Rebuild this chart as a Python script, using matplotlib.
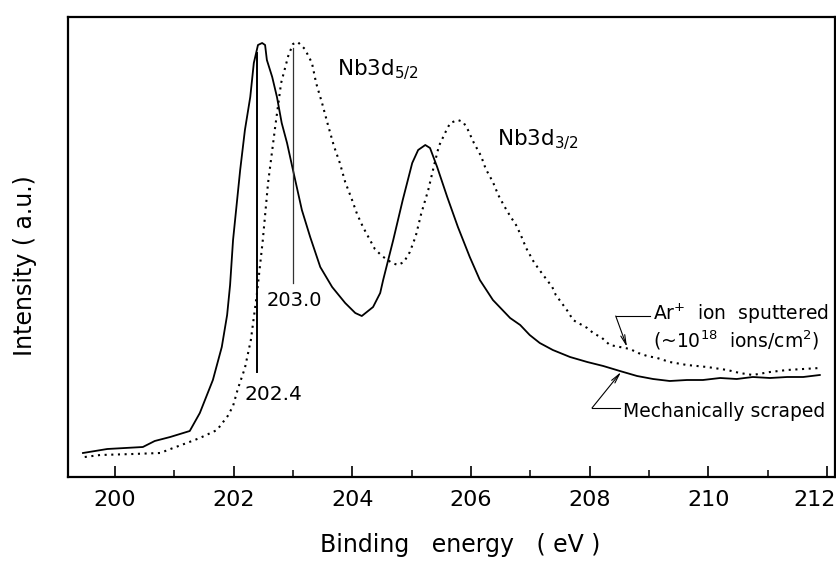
"""Nb 3d XPS spectra of a niobium surface: mechanically scraped vs. Ar+ sputtered."""

import matplotlib

matplotlib.use("Agg")
import matplotlib.pyplot as plt
import matplotlib.transforms as mtransforms
import numpy as np


# Mechanically scraped surface (solid trace), intensity in a.u.
scraped_ev = [
    199.46, 199.87, 200.47, 200.67, 200.93, 201.26, 201.43, 201.65, 201.80,
    201.89, 201.94, 201.99, 202.11, 202.19, 202.28, 202.34, 202.41, 202.48,
    202.53, 202.56, 202.65, 202.73, 202.81, 202.90, 203.00, 203.15, 203.29,
    203.46, 203.66, 203.88, 204.05, 204.16, 204.35, 204.47, 204.52, 204.69,
    204.85, 205.01, 205.11, 205.23, 205.31, 205.43, 205.60, 205.78, 205.98,
    206.15, 206.37, 206.66, 206.83, 206.99, 207.16, 207.38, 207.67, 207.96,
    208.23, 208.51, 208.80, 209.07, 209.35, 209.64, 209.91, 210.20, 210.48,
    210.75, 211.04, 211.33, 211.60, 211.88,
]
scraped_int = [
    25, 29, 31, 37, 41, 47, 65, 98, 131,
    163, 193, 238, 308, 348, 381, 415, 433, 435,
    433, 418, 401, 381, 355, 335, 308, 268, 241,
    211, 191, 175, 165, 162, 171, 185, 198, 238,
    278, 315, 328, 333, 330, 311, 281, 251, 221,
    198, 178, 160, 153, 143, 135, 128, 121, 116,
    112, 107, 102, 99, 97, 98, 98, 100, 99,
    101, 100, 101, 101, 103,
]

# Ar+ ion sputtered surface (~1e18 ions/cm^2, dotted trace)
sputtered_ev = [
    199.49, 199.75, 200.30, 200.76, 200.98, 201.21, 201.43, 201.72, 201.90,
    201.99, 202.07, 202.19, 202.29, 202.39, 202.49, 202.58, 202.70, 202.80,
    202.92, 203.00, 203.08, 203.20, 203.32, 203.39, 203.49, 203.59, 203.69,
    203.79, 203.88, 203.99, 204.08, 204.18, 204.28, 204.38, 204.50, 204.67,
    204.77, 204.87, 204.97, 205.07, 205.16, 205.28, 205.38, 205.46, 205.58,
    205.65, 205.78, 205.87, 205.95, 206.05, 206.17, 206.25, 206.37, 206.46,
    206.56, 206.66, 206.76, 206.84, 206.93, 207.05, 207.13, 207.23, 207.37,
    207.43, 207.53, 207.64, 207.72, 207.84, 207.96, 208.06, 208.21, 208.34,
    208.51, 208.68, 208.82, 208.97, 209.14, 209.35, 209.64, 209.98, 210.32,
    210.53, 210.75, 211.04, 211.33, 211.60, 211.88,
]
sputtered_int = [
    21, 23, 24, 25, 30, 35, 40, 48, 62,
    72, 89, 110, 138, 183, 237, 295, 351, 395,
    422, 434, 436, 429, 415, 395, 375, 353, 332,
    315, 296, 279, 264, 251, 240, 229, 222, 215,
    213, 216, 226, 242, 264, 288, 313, 332, 347,
    355, 358, 356, 348, 335, 322, 309, 296, 283,
    272, 262, 253, 243, 230, 217, 210, 202, 191,
    183, 175, 166, 158, 154, 150, 145, 140, 133,
    131, 129, 125, 122, 120, 116, 113, 111, 108,
    105, 103, 106, 108, 109, 110,
]

peak_scraped = 202.4
peak_sputtered = 203.0

major_ticks = [200, 202, 204, 206, 208, 210, 212]
minor_ticks = [201, 203, 205, 207, 209, 211]

W, H = 837, 562
fig = plt.figure(figsize=(W / 100, H / 100), dpi=100)
ax = fig.add_axes([68 / W, (H - 477) / H, 767 / W, 460 / H])

ax.plot(scraped_ev, scraped_int, color="black", linewidth=1.3,
        solid_joinstyle="round")
ax.plot(
    sputtered_ev,
    sputtered_int,
    color="black",
    linewidth=1.5,
    linestyle=(0, (1, 2.2)),
)

# Peak position markers
ax.plot([peak_scraped, peak_scraped], [106, 425], color="black", linewidth=1.4)
ax.plot([peak_sputtered, peak_sputtered], [195, 430], color="#333333", linewidth=0.9)
ax.text(202.19, 84, f"{peak_scraped:.1f}", fontsize=14.5, ha="left", va="center")
ax.text(203.02, 178, f"{peak_sputtered:.1f}", fontsize=14, ha="center", va="center")

ax.text(203.74, 403, r"Nb3d$_{5/2}$", fontsize=15.5, ha="left", va="baseline")
ax.text(206.44, 333, r"Nb3d$_{3/2}$", fontsize=15.5, ha="left", va="baseline")

# Curve labels with leader lines
arrow = dict(arrowstyle="->,head_length=0.7,head_width=0.15", color="black",
             linewidth=0.8, shrinkA=0, shrinkB=0)
ax.plot([208.44, 209.02], [162, 162], color="black", linewidth=0.8)
ax.annotate("", xy=(208.63, 131), xytext=(208.44, 162), arrowprops=arrow)
ax.text(209.07, 158, r"Ar$^{+}$  ion  sputtered", fontsize=13.5, ha="left", va="baseline")
ax.text(209.07, 131, r"(~10$^{18}$  ions/cm$^{2}$)", fontsize=13.5, ha="left", va="baseline")

ax.plot([208.04, 208.51], [70, 70], color="black", linewidth=0.8)
ax.annotate("", xy=(208.53, 106), xytext=(208.04, 70), arrowprops=arrow)
ax.text(208.56, 61, "Mechanically scraped", fontsize=13.5, ha="left", va="baseline")

ax.set_xlim(199.208, 212.136)
ax.set_ylim(1, 461)
ax.set_xticks(major_ticks)
ax.set_xticks(minor_ticks, minor=True)
ax.set_yticks([])
ax.tick_params(axis="x", which="major", direction="in", length=8, width=1.2,
               labelsize=16, pad=9)
ax.tick_params(axis="x", which="minor", direction="in", length=5, width=1.1)
for spine in ax.spines.values():
    spine.set_linewidth(1.6)

# keep the last tick label inside the figure
last = ax.get_xticklabels()[-1]
last.set_transform(last.get_transform()
                   + mtransforms.ScaledTranslation(-0.12, 0, fig.dpi_scale_trans))

ax.set_xlabel("Binding   energy   ( eV )", fontsize=17)
ax.xaxis.set_label_coords(0.511, -0.122)
ax.set_ylabel("Intensity ( a.u.)", fontsize=17)
ax.yaxis.set_label_coords(-0.040, 0.459)

fig.savefig("out.png", dpi=100)
